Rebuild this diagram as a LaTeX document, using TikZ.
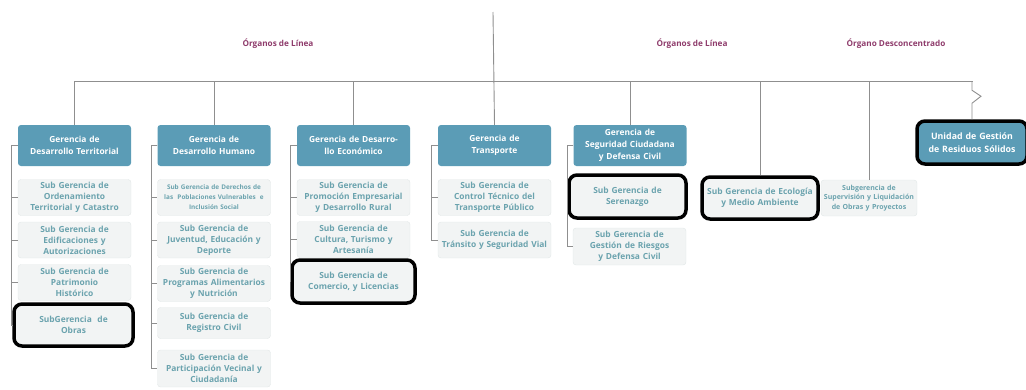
\documentclass[tikz,border=0pt]{standalone}
\usepackage{fontspec}
\setmainfont{Open Sans}
\definecolor{gerblue}{HTML}{5B9CB6}
\definecolor{subfill}{HTML}{F2F4F4}
\definecolor{subline}{HTML}{E2E7E7}
\definecolor{subtext}{HTML}{6BA3AE}
\definecolor{organo}{HTML}{8E3B6B}
\definecolor{conngray}{HTML}{8F8F8F}
\begin{document}
\begin{tikzpicture}[x=1pt,y=-1pt,
	gerencia/.style={fill=gerblue, rounded corners=3pt, text=white, font=\bfseries\fontsize{8.4}{12}\selectfont, align=center, minimum width=113pt, minimum height=41pt, text width=109pt, inner sep=0pt},
	subger/.style={fill=subfill, draw=subline, rounded corners=3pt, text=subtext, font=\bfseries\fontsize{8.4}{11}\selectfont, align=center, minimum width=113pt, minimum height=36pt, text width=112pt, inner sep=0pt},
	chica/.style={font=\bfseries\fontsize{6.4}{10}\selectfont},
	marca/.style={draw=black, line width=3.5pt, rounded corners=8pt},
	organo/.style={text=organo, font=\bfseries\fontsize{8.2}{10}\selectfont},
	conn/.style={draw=conngray, line width=0.9pt}]
	\useasboundingbox (0,0) rectangle (1026,389);
	% titulos
	\node[organo] (lin1) at (278,44) {Órganos de Línea};
	\node[organo] (lin2) at (692,44) {Órganos de Línea};
	\node[organo] (desc) at (896,44) {Órgano Desconcentrado};
	% gerencias
	\node[gerencia] (g1) at (74.5,145.5) {Gerencia de\\Desarrollo Territorial};
	\node[gerencia] (g2) at (214,145.5) {Gerencia de\\Desarrollo Humano};
	\node[gerencia] (g3) at (353.5,145.5) {Gerencia de Desarro-\\llo Económico};
	\node[gerencia] (g4) at (494.5,145.5) {Gerencia de\\Transporte};
	\node[gerencia] (g5) at (630,145.5) {Gerencia de\\Seguridad Ciudadana\\y Defensa Civil};
	\node[gerencia, marca, font=\bfseries\fontsize{8.8}{13}\selectfont, minimum width=110pt, minimum height=43pt] (unidad) at (972,142.5) {Unidad de Gestión\\de Residuos Sólidos};
	% sub gerencias
	\node[subger] (s11) at (74.5,197.5) {Sub Gerencia de\\Ordenamiento\\Territorial y Catastro};
	\node[subger] (s12) at (74.5,240) {Sub Gerencia de\\Edificaciones y\\Autorizaciones};
	\node[subger] (s13) at (74.5,282.5) {Sub Gerencia de\\Patrimonio\\Histórico};
	\node[subger, marca, minimum width=119pt, minimum height=42pt] (s14) at (73.5,325) {SubGerencia~ de\\Obras};
	\node[subger, chica] (s21) at (214,197.5) {Sub Gerencia de Derechos de\\las~ Poblaciones Vulnerables~ e\\Inclusión Social};
	\node[subger] (s22) at (214,240) {Sub Gerencia de\\Juventud, Educación y\\Deporte};
	\node[subger] (s23) at (214,283.5) {Sub Gerencia de\\Programas Alimentarios\\y Nutrición};
	\node[subger, minimum height=31pt] (s24) at (214,323) {Sub Gerencia de\\Registro Civil};
	\node[subger, minimum height=37pt] (s25) at (214,368.5) {Sub Gerencia de\\Participación Vecinal y\\Ciudadanía};
	\node[subger] (s31) at (353.5,197.5) {Sub Gerencia de\\Promoción Empresarial\\y Desarrollo Rural};
	\node[subger] (s32) at (353.5,239.5) {Sub Gerencia de\\Cultura, Turismo y\\Artesanía};
	\node[subger, marca, minimum width=123pt, minimum height=43pt] (s33) at (353.5,281.5) {Sub Gerencia de\\Comercio, y Licencias};
	\node[subger] (s41) at (494.5,197.5) {Sub Gerencia de\\Control Técnico del\\Transporte Público};
	\node[subger] (s42) at (494.5,240) {Sub Gerencia de\\Tránsito y Seguridad Vial};
	\node[subger, marca, minimum width=117pt, minimum height=43pt] (s51) at (627.5,196.5) {Sub Gerencia de\\Serenazgo};
	\node[subger, minimum height=37pt] (s52) at (629.5,246.5) {Sub Gerencia de\\Gestión de Riesgos\\y Defensa Civil};
	\node[subger, marca, minimum width=116pt, minimum height=42pt] (eco) at (760,198) {Sub Gerencia de Ecología\\y Medio Ambiente};
	\node[subger, font=\bfseries\fontsize{7}{9.5}\selectfont, minimum width=96pt, text width=96pt] (sup) at (869,198) {Subgerencia de\\Supervisión y Liquidación\\de Obras y Proyectos};
	% lineas
	\coordinate (cima) at (493,12);
	\coordinate (bus) at (973,81);
	\draw[conn] (cima) -- (g4.north);
	\draw[conn] (g1.north) |- (bus);
	\draw[conn] (g2.north) -- (g2.north |- bus);
	\draw[conn] (g3.north) -- (g3.north |- bus);
	\draw[conn] (g5.north) -- (g5.north |- bus);
	\draw[conn] (eco.north) -- (eco.north |- bus);
	\draw[conn] (sup.north) -- (sup.north |- bus);
	\draw[conn] (unidad.north) -- ++(0,-16) -- ++(9,-7) -- ++(-9,-6) -- (unidad.north |- bus);
	\foreach \s in {s11,s12,s13,s14} \draw[conn] (g1.west) -- ++(-6,0) |- (\s.west);
	\foreach \s in {s21,s22,s23,s24,s25} \draw[conn] (g2.west) -- ++(-6,0) |- (\s.west);
	\foreach \s in {s31,s32,s33} \draw[conn] (g3.west) -- ++(-6,0) |- (\s.west);
	\foreach \s in {s41,s42} \draw[conn] (g4.west) -- ++(-6,0) |- (\s.west);
	\foreach \s in {s51,s52} \draw[conn] (g5.west) -- ++(-6,0) |- (\s.west);
\end{tikzpicture}
\end{document}
